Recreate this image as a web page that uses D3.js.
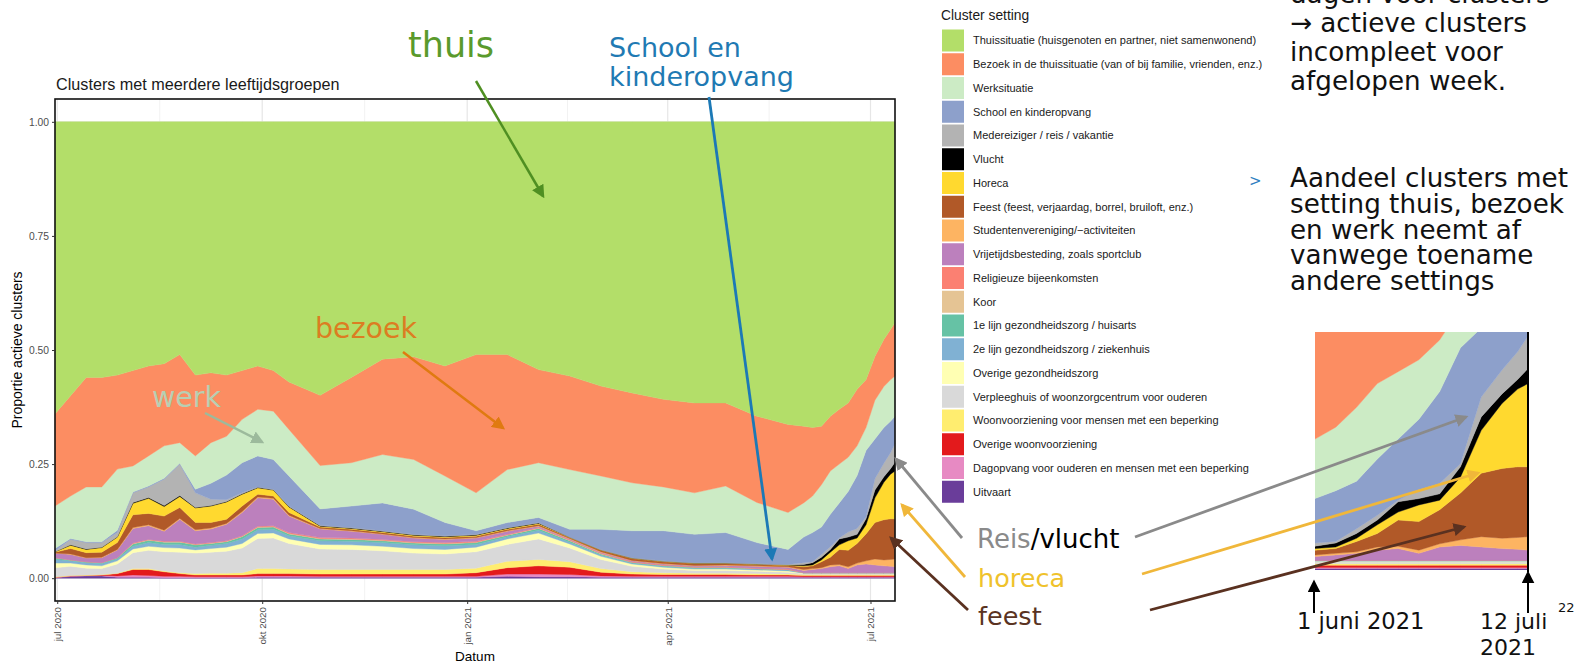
<!DOCTYPE html>
<html><head><meta charset="utf-8">
<script src="https://cdn.jsdelivr.net/npm/d3@7"></script>
<style>
html,body{margin:0;padding:0;background:#fff;}
svg{display:block;}
</style></head><body>
<svg id="c" width="1587" height="664"></svg>
<script>
// ---------------- DATA ----------------
const dates = ["2020-06-30","2020-07-07","2020-07-14","2020-07-21","2020-07-28","2020-08-04","2020-08-11","2020-08-18","2020-08-25","2020-09-01","2020-09-08","2020-09-15","2020-09-22","2020-09-29","2020-10-06","2020-10-13","2020-10-27","2020-11-10","2020-11-24","2020-12-08","2020-12-22","2021-01-05","2021-01-19","2021-02-02","2021-02-16","2021-03-02","2021-03-16","2021-03-30","2021-04-13","2021-04-27","2021-05-11","2021-05-25","2021-06-01","2021-06-05","2021-06-09","2021-06-13","2021-06-17","2021-06-21","2021-06-25","2021-06-29","2021-07-03","2021-07-07","2021-07-10","2021-07-12"];

const thuis = [.64,.60,.56,.56,.555,.545,.535,.53,.51,.555,.55,.555,.545,.535,.545,.57,.60,.56,.52,.515,.535,.51,.51,.543,.557,.579,.594,.608,.616,.616,.645,.663,.667,.67,.667,.645,.63,.616,.586,.565,.514,.477,.455,.44];
const bezoek = [.202,.22,.24,.24,.206,.209,.197,.18,.193,.177,.153,.134,.107,.095,.089,.104,.154,.187,.209,.225,.241,.303,.252,.204,.205,.197,.197,.192,.197,.182,.189,.193,.168,.15,.128,.12,.12,.119,.124,.105,.096,.103,.11,.117];
const werk = [.093,.093,.12,.12,.134,.057,.066,.071,.045,.073,.089,.085,.095,.102,.106,.102,.095,.095,.106,.109,.102,.083,.116,.12,.131,.117,.105,.096,.091,.102,.088,.081,.075,.08,.093,.095,.085,.075,.065,.05,.085,.09,.091,.088];
const school = [.005,.002,.002,.002,.005,.002,.002,.002,.002,.008,.035,.054,.066,.068,.065,.066,.036,.047,.061,.055,.029,.008,.011,.011,.017,.044,.059,.066,.062,.066,.046,.033,.056,.064,.06,.071,.077,.089,.116,.146,.087,.078,.069,.06];
const medereiziger = [.002,.012,.014,.01,.009,.021,.023,.058,.069,.032,.014,.004,.002,.001,.001,.001,.001,.001,.001,.001,.001,.001,.001,.001,0,.001,.001,.001,.001,.001,.001,.001,.004,.002,.006,.006,.002,.011,.013,.004,.025,.03,.035,.041];
const vlucht = [0,.001,.001,.001,.001,.002,.002,.002,.002,.001,.001,.001,.001,.001,.001,.001,.001,.001,.001,.001,.001,.001,.001,.001,0,0,0,0,0,0,0,0,.003,.005,.006,.006,.013,.008,.008,.013,.017,.012,.012,.019];
const horeca = [.001,.007,.007,.01,.012,.025,.033,.021,.024,.032,.036,.038,.026,.014,.013,.012,.002,.002,.002,.002,.002,.002,.002,.002,.001,.001,.001,.001,.001,.001,.001,.001,.002,.002,.004,.011,.01,.021,.012,.02,.054,.082,.098,.105];
const feest = [.002,.012,.011,.011,.015,.028,.025,.031,.024,.016,.012,.009,.012,.006,.005,.006,.003,.003,.003,.003,.003,.003,.003,.003,.002,.003,.004,.004,.004,.003,.003,.003,.006,.006,.013,.017,.033,.036,.043,.059,.08,.088,.089,.088];
const studenten = [0,.001,.001,.001,.001,.002,.002,.002,.002,.002,.002,.002,.002,.002,.002,.002,.001,.001,.001,.001,.001,.001,.001,.001,.001,.001,.001,.001,.001,.001,.001,.001,.002,.002,.002,.004,.003,.004,.004,.007,.013,.013,.015,.017];
const vrijetijd = [.01,.012,.008,.011,.017,.032,.03,.022,.048,.029,.03,.036,.051,.062,.058,.036,.019,.015,.011,.008,.007,.007,.007,.003,.002,.002,.002,.002,.002,.003,.004,.004,.005,.007,.009,.013,.015,.009,.017,.019,.017,.015,.014,.013];
const religieuze = [0,0,0,0,0,.001,.001,.001,.001,.001,.001,.001,.001,.002,.002,.002,.002,.002,.002,.002,.002,.002,.001,.001,.001,.001,.001,.001,.001,.001,.001,.001,0,0,0,0,0,0,0,0,0,0,0,0];
const koor = [0,0,0,0,0,.001,.001,.001,.001,.001,.001,.001,.001,.001,.001,.001,.001,.001,.001,.001,.001,.001,.001,.001,.001,.001,0,0,0,0,0,0,0,0,0,0,0,0,0,0,0,0,0,0];
const lijn1 = [.004,.002,.002,.002,.003,.005,.005,.005,.005,.005,.004,.004,.005,.005,.005,.004,.004,.004,.004,.004,.004,.004,.003,.004,.003,.002,.002,.002,.002,.002,.001,.001,0,0,0,0,0,0,0,0,0,0,0,0];
const lijn2 = [.008,.005,.005,.005,.004,.006,.008,.007,.008,.006,.007,.008,.01,.008,.008,.007,.008,.008,.008,.008,.008,.006,.005,.006,.004,.003,.002,.002,.002,.002,.002,.002,.001,.001,.001,.001,.001,.001,.001,.001,.001,.001,.001,.001];
const overigeGez = [.01,.007,.007,.006,.007,.008,.009,.009,.009,.007,.008,.009,.01,.011,.011,.01,.01,.01,.01,.01,.01,.01,.012,.013,.009,.007,.005,.004,.003,.003,.003,.003,.001,.001,.001,.001,.001,.001,.001,.001,.001,.001,.001,.001];
const verpleeghuis = [.02,.02,.015,.013,.02,.035,.04,.042,.045,.045,.046,.048,.054,.066,.067,.056,.045,.044,.041,.036,.034,.036,.037,.045,.03,.02,.012,.008,.006,.006,.005,.004,.002,.002,.002,.002,.002,.002,.002,.002,.002,.002,.002,.002];
const woonvoorziening = [.001,.001,.001,.001,.001,.002,.002,.002,.002,.003,.004,.004,.005,.011,.011,.01,.01,.01,.01,.01,.01,.01,.014,.014,.012,.008,.005,.004,.003,.003,.003,.002,.002,.002,.002,.002,.002,.002,.002,.002,.002,.002,.002,.002];
const overigeWoon = [0,0,0,.001,.005,.012,.013,.01,.006,.004,.004,.004,.004,.005,.005,.005,.005,.005,.005,.005,.005,.008,.014,.018,.016,.008,.005,.004,.004,.004,.003,.003,.003,.003,.003,.003,.003,.003,.003,.003,.003,.003,.003,.003];
const dagopvang = [.001,.001,.001,.001,.003,.005,.004,.003,.003,.002,.002,.002,.002,.003,.003,.003,.002,.002,.002,.002,.002,.002,.005,.006,.005,.003,.002,.002,.002,.002,.002,.002,.001,.001,.001,.001,.001,.001,.001,.001,.001,.001,.001,.001];
const uitvaart = [.001,.004,.005,.005,.002,.002,.002,.001,.001,.001,.001,.001,.001,.002,.002,.002,.002,.002,.002,.002,.002,.002,.004,.003,.003,.002,.002,.002,.002,.002,.002,.002,.002,.002,.002,.002,.002,.002,.002,.002,.002,.002,.002,.002];

// legend order (top of stack first)
const legendKeys = ["thuis","bezoek","werk","school","medereiziger","vlucht","horeca","feest","studenten","vrijetijd","religieuze","koor","lijn1","lijn2","overigeGez","verpleeghuis","woonvoorziening","overigeWoon","dagopvang","uitvaart"];
const legendLabels = ["Thuissituatie (huisgenoten en partner, niet samenwonend)","Bezoek in de thuissituatie (van of bij familie, vrienden, enz.)","Werksituatie","School en kinderopvang","Medereiziger / reis / vakantie","Vlucht","Horeca","Feest (feest, verjaardag, borrel, bruiloft, enz.)","Studentenvereniging/\u2212activiteiten","Vrijetijdsbesteding, zoals sportclub","Religieuze bijeenkomsten","Koor","1e lijn gezondheidszorg / huisarts","2e lijn gezondheidszorg / ziekenhuis","Overige gezondheidszorg","Verpleeghuis of woonzorgcentrum voor ouderen","Woonvoorziening voor mensen met een beperking","Overige woonvoorziening","Dagopvang voor ouderen en mensen met een beperking","Uitvaart"];
const yTicks = [0, 0.25, 0.5, 0.75, 1];
const xTickDates = ["2020-07-01","2020-10-01","2021-01-01","2021-04-01","2021-07-01"];
const xTickLabels = ["jul 2020","okt 2020","jan 2021","apr 2021","jul 2021"];

// styles
const colors = ["#b3de69","#fc8d62","#ccebc5","#8da0cb","#b3b3b3","#000000","#ffd92f","#b15928","#fdb462","#bc80bd","#fb8072","#e5c494","#66c2a5","#80b1d3","#ffffb3","#d9d9d9","#ffed6f","#e31a1c","#e78ac3","#6a3d9a"];

// ---------------- BUILD ----------------
const seriesValues = {thuis,bezoek,werk,school,medereiziger,vlucht,horeca,feest,studenten,vrijetijd,religieuze,koor,lijn1,lijn2,overigeGez,verpleeghuis,woonvoorziening,overigeWoon,dagopvang,uitvaart};
const colorOf = {}; legendKeys.forEach((k,i)=>colorOf[k]=colors[i]);
const stackKeys = legendKeys.slice().reverse();
const parse = d3.timeParse("%Y-%m-%d");
const rows = dates.map((d,i)=>{const r={date:parse(d)}; stackKeys.forEach(k=>r[k]=seriesValues[k][i]); return r;});
const layers = d3.stack().keys(stackKeys).offset(d3.stackOffsetExpand)(rows);

const svg = d3.select("#c");
const FR = "'Liberation Sans', Arial, Helvetica, sans-serif";
const FS = "'DejaVu Sans', Verdana, sans-serif";
const defs = svg.append("defs");

// panel geometry
const P = {l:55, r:895, t:99, b:601};
const x = d3.scaleTime().domain([parse(dates[0]), parse(dates[dates.length-1])]).range([P.l, P.r]);
const y = d3.scaleLinear().domain([-0.05, 1.05]).range([P.b, P.t]);

// title
svg.append("text").attr("x",56).attr("y",90).style("font-family",FR).style("font-size","16.2px").attr("fill","#1a1a1a")
  .text("Clusters met meerdere leeftijdsgroepen");

// panel background & grid
svg.append("rect").attr("x",P.l).attr("y",P.t).attr("width",P.r-P.l).attr("height",P.b-P.t).attr("fill","#fff");
const tickDates = xTickDates.map(parse);
const minorDates = [];
for (let i=0;i<tickDates.length-1;i++) minorDates.push(new Date((tickDates[i].getTime()+tickDates[i+1].getTime())/2));
const gGrid = svg.append("g");
minorDates.forEach(d=>gGrid.append("line").attr("x1",x(d)).attr("x2",x(d)).attr("y1",P.t).attr("y2",P.b).attr("stroke","#f2f2f2").attr("stroke-width",1));
for (let i=0;i<yTicks.length-1;i++){const v=(yTicks[i]+yTicks[i+1])/2; gGrid.append("line").attr("x1",P.l).attr("x2",P.r).attr("y1",y(v)).attr("y2",y(v)).attr("stroke","#f2f2f2");}
tickDates.forEach(d=>gGrid.append("line").attr("x1",x(d)).attr("x2",x(d)).attr("y1",P.t).attr("y2",P.b).attr("stroke","#e6e6e6").attr("stroke-width",1.2));
yTicks.forEach(v=>gGrid.append("line").attr("x1",P.l).attr("x2",P.r).attr("y1",y(v)).attr("y2",y(v)).attr("stroke","#e6e6e6").attr("stroke-width",1.2));

// areas
const area = d3.area().x(d=>x(d.data.date)).y0(d=>y(d[0])).y1(d=>y(d[1]));
svg.append("g").selectAll("path").data(layers).join("path")
  .attr("d",area).attr("fill",d=>colorOf[d.key]).attr("stroke",d=>colorOf[d.key]).attr("stroke-width",0.4);

// panel border
svg.append("rect").attr("x",P.l).attr("y",P.t).attr("width",P.r-P.l).attr("height",P.b-P.t).attr("fill","none").attr("stroke","#111").attr("stroke-width",1.6);

// axes
const yAxis = svg.append("g").attr("transform",`translate(${P.l},0)`)
  .call(d3.axisLeft(y).tickValues(yTicks).tickFormat(d3.format(".2f")).tickSize(3).tickPadding(3));
yAxis.select(".domain").remove();
yAxis.selectAll("line").attr("stroke","#333");
yAxis.selectAll("text").style("font-family",FR).style("font-size","10.3px").attr("fill","#4d4d4d");

const xAxis = svg.append("g").attr("transform",`translate(0,${P.b})`)
  .call(d3.axisBottom(x).tickValues(tickDates).tickFormat((d,i)=>xTickLabels[i]).tickSize(3));
xAxis.select(".domain").remove();
xAxis.selectAll("line").attr("stroke","#333");
xAxis.selectAll("text").attr("transform","rotate(-90)").attr("x",-6).attr("y",0).attr("dy","0.35em")
  .style("text-anchor","end").style("font-family",FR).style("font-size","9.8px").attr("fill","#4d4d4d");

svg.append("text").attr("x",(P.l+P.r)/2).attr("y",661).attr("text-anchor","middle").style("font-family",FR).style("font-size","13.5px").text("Datum");
svg.append("text").attr("transform",`translate(22,${(P.t+P.b)/2}) rotate(-90)`).attr("text-anchor","middle").style("font-family",FR).style("font-size","14px").text("Proportie actieve clusters");

// legend
svg.append("text").attr("x",941).attr("y",20).style("font-family",FR).style("font-size","13.8px").attr("fill","#1a1a1a").text("Cluster setting");
const lg = svg.append("g");
legendKeys.forEach((k,i)=>{
  const cy = 40.5 + 23.75*i;
  lg.append("rect").attr("x",942).attr("y",cy-11).attr("width",22).attr("height",22).attr("fill",colorOf[k]);
  lg.append("text").attr("x",973).attr("y",cy).attr("dy","0.35em").style("font-family",FR).style("font-size","11px").attr("fill","#1a1a1a").text(legendLabels[i]);
});

// ---------------- INSET (zoom on june-july 2021) ----------------
const I = {l:1315, r:1528, t:332, b:570};
const xi = d3.scaleTime().domain([parse("2021-06-01"), parse(dates[dates.length-1])]).range([I.l, I.r]);
const yi = d3.scaleLinear().domain([0, 0.3]).range([I.b, I.t]);
defs.append("clipPath").attr("id","clipI").append("rect").attr("x",I.l).attr("y",I.t).attr("width",I.r-I.l).attr("height",I.b-I.t);
const areaI = d3.area().x(d=>xi(d.data.date)).y0(d=>yi(d[0])).y1(d=>yi(d[1]));
svg.append("g").attr("clip-path","url(#clipI)").selectAll("path").data(layers).join("path")
  .attr("d",areaI).attr("fill",d=>colorOf[d.key]).attr("stroke",d=>colorOf[d.key]).attr("stroke-width",0.4);
svg.append("line").attr("x1",I.r).attr("x2",I.r).attr("y1",I.t).attr("y2",I.b+2).attr("stroke","#000").attr("stroke-width",2);

// ---------------- ANNOTATIONS ----------------
function marker(id,color){
  defs.append("marker").attr("id",id).attr("viewBox","0 0 10 10").attr("refX",8).attr("refY",5)
    .attr("markerWidth",13).attr("markerHeight",13).attr("markerUnits","userSpaceOnUse").attr("orient","auto")
    .append("path").attr("d","M0,0 L10,5 L0,10 z").attr("fill",color);
}
const arrows = [
  {id:"aThuis", c:"#4f8f22", p:[476,81,543,196], w:2.5},
  {id:"aSchool",c:"#1c79b6", p:[709,97,772,559], w:2.8},
  {id:"aBezoek",c:"#e07a10", p:[403,352,503,428], w:2.5},
  {id:"aWerk",  c:"#9cba9c", p:[205,413,262,442], w:2.5},
  {id:"aReis",  c:"#8a8a8a", p:[962,538,896,459], w:2.8},
  {id:"aHor",   c:"#f0b73a", p:[965,577,902,505], w:2.8},
  {id:"aFeest", c:"#5a3120", p:[968,610,891,538], w:2.8},
  {id:"aReis2", c:"#8a8a8a", p:[1135,537,1466,417], w:2.8},
  {id:"aHor2",  c:"#f0b73a", p:[1142,574,1478,473], w:2.8},
  {id:"aFeest2",c:"#5a3120", p:[1150,610,1464,527], w:2.8},
  {id:"aUp1",   c:"#000000", p:[1314,613,1314,582], w:2},
  {id:"aUp2",   c:"#000000", p:[1528,613,1528,573], w:2}
];
arrows.forEach(a=>{
  marker(a.id,a.c);
  svg.append("line").attr("x1",a.p[0]).attr("y1",a.p[1]).attr("x2",a.p[2]).attr("y2",a.p[3])
    .attr("stroke",a.c).attr("stroke-width",a.w).attr("marker-end",`url(#${a.id})`);
});

function txt(xp,yp,s,size,color){
  return svg.append("text").attr("x",xp).attr("y",yp).style("font-family",FS).style("font-size",size+"px").attr("fill",color).text(s);
}
function block(xp,yp,lines,size,color,lh){
  const t = svg.append("text").attr("x",xp).attr("y",yp).style("font-family",FS).style("font-size",size+"px").attr("fill",color);
  lines.forEach((s,i)=>t.append("tspan").attr("x",xp).attr("dy",i===0?0:lh).text(s));
  return t;
}
txt(408,57,"thuis",35,"#5a9a2c");
block(609,57,["School en","kinderopvang"],27,"#1f7ab3",29);
txt(315,338,"bezoek",28.5,"#dc7d22");
txt(152,407,"werk",28.5,"#b7cfb3");
const rv = txt(977,548,"",26,"#8a8a8a");
rv.append("tspan").attr("fill","#8a8a8a").text("Reis");
rv.append("tspan").attr("fill","#000").text("/vlucht");
txt(978,587,"horeca",25.5,"#efc22c");
txt(978,625,"feest",25.5,"#5a3322");

// right-hand slide text
block(1290,3,["dagen voor clusters","\u2192 actieve clusters","incompleet voor","afgelopen week."],26.2,"#111",29);
txt(1249,186,">",15,"#2f7fc1");
block(1290,187,["Aandeel clusters met","setting thuis, bezoek","en werk neemt af","vanwege toename","andere settings"],26.2,"#111",25.8);

txt(1297,629,"1 juni 2021",22.6,"#111");
block(1480,629,["12 juli","2021"],22,"#111",26);
txt(1558,612,"22",13,"#111");
</script>
</body></html>
